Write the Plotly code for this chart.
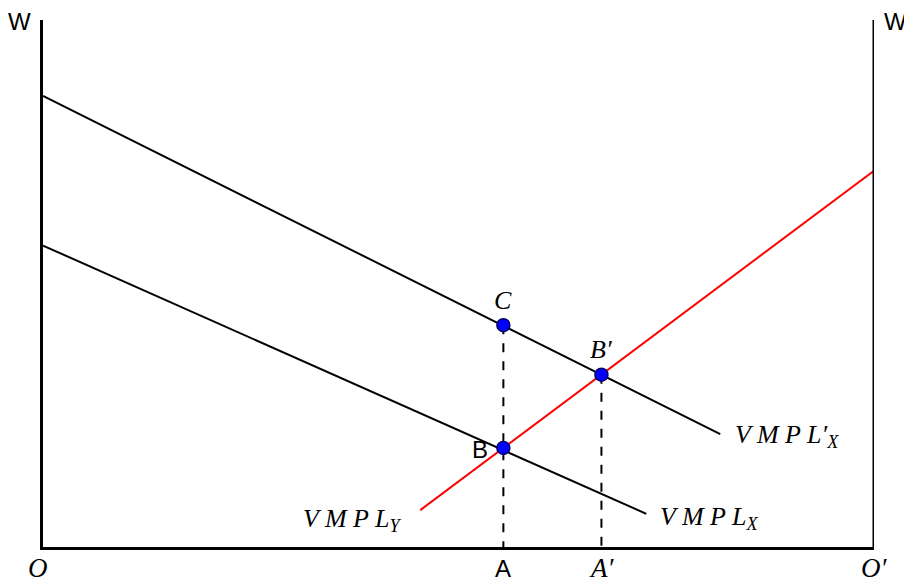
import plotly.graph_objects as go

# Data (x from O=0 to O'=10, wage axis 0..10)
vmplx_prime_x = [0.0, 8.15]
vmplx_prime_y = [8.56, 2.14]
vmplx_x = [0.0, 7.26]
vmplx_y = [5.72, 0.63]
vmply_x = [4.54, 10.0]
vmply_y = [0.70, 7.14]
point_names = ["C", "B'", "B"]
point_x = [5.54, 6.72, 5.54]
point_y = [4.21, 3.27, 1.88]

fig = go.Figure()
black = "black"
fig.add_trace(go.Scatter(x=vmplx_prime_x, y=vmplx_prime_y, mode="lines",
                         line=dict(color=black, width=2), hoverinfo="skip"))
fig.add_trace(go.Scatter(x=vmplx_x, y=vmplx_y, mode="lines",
                         line=dict(color=black, width=2), hoverinfo="skip"))
fig.add_trace(go.Scatter(x=vmply_x, y=vmply_y, mode="lines",
                         line=dict(color="red", width=2), hoverinfo="skip"))
# dashed drops
fig.add_trace(go.Scatter(x=[point_x[0], point_x[0]], y=[point_y[0], 0], mode="lines",
                         line=dict(color=black, width=2, dash="dash"), hoverinfo="skip"))
fig.add_trace(go.Scatter(x=[point_x[1], point_x[1]], y=[point_y[1], 0], mode="lines",
                         line=dict(color=black, width=2, dash="dash"), hoverinfo="skip"))
fig.add_trace(go.Scatter(x=point_x, y=point_y, mode="markers",
                         marker=dict(color="blue", size=13, line=dict(color="#000066", width=1.5)),
                         hoverinfo="skip"))

serif = dict(family="Liberation Serif", size=26, color=black)
serif_big = dict(family="Liberation Serif", size=27, color=black)
sans = dict(family="Liberation Sans", size=24, color=black)

ann = []
def t(x, y, text, font, xref="x", yref="y"):
    ann.append(dict(x=x, y=y, xref=xref, yref=yref, text=text, showarrow=False, font=font,
                    xanchor="center", yanchor="middle"))

# inside labels (data coords)
t(point_x[0], point_y[0] + 0.47, "<i>C</i>", serif)
t(point_x[1], point_y[1] + 0.47, "<i>B′</i>", serif)
t(point_x[2] - 0.28, point_y[2] - 0.03, "B", sans)
t(8.95, 2.1, "<i>V M P L′</i><sub><i>X</i></sub>", serif)
t(8.02, 0.55, "<i>V M P L</i><sub><i>X</i></sub>", serif)
t(3.72, 0.52, "<i>V M P L</i><sub><i>Y</i></sub>", serif)
# outside labels (paper coords)
px = lambda v: v / 10.0
t(px(point_x[0]), -0.040, "A", sans, "paper", "paper")
t(px(point_x[1]), -0.040, "<i>A′</i>", serif_big, "paper", "paper")
t(-0.006, -0.040, "<i>O</i>", serif_big, "paper", "paper")
t(1.0, -0.040, "<i>O′</i>", serif_big, "paper", "paper")
t(-0.0277, 0.998, "W", sans, "paper", "paper")
t(1.0253, 0.998, "W", sans, "paper", "paper")

fig.update_layout(
    width=912, height=583,
    margin=dict(l=35, r=46, t=12, b=44, autoexpand=False),
    plot_bgcolor="white", paper_bgcolor="white",
    showlegend=False,
    annotations=ann,
    shapes=[dict(type="line", xref="x", yref="y", x0=10, x1=10, y0=0, y1=10,
                 line=dict(color=black, width=3))],
    xaxis=dict(range=[0, 10], showgrid=False, zeroline=False, showticklabels=False,
               showline=True, linecolor=black, linewidth=3, ticks=""),
    yaxis=dict(range=[0, 10], showgrid=False, zeroline=False, showticklabels=False,
               showline=True, linecolor=black, linewidth=3, ticks=""),
)
fig.write_html("out.html")
